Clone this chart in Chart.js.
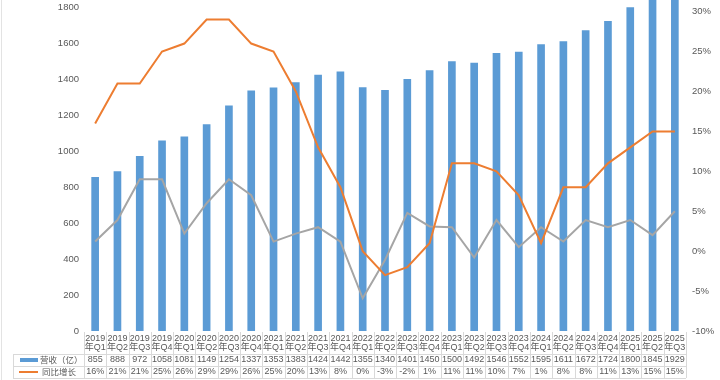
<!DOCTYPE html>
<html>
<head>
<meta charset="utf-8">
<script src="https://cdn.jsdelivr.net/npm/chart.js@4/dist/chart.umd.min.js"></script>
<style>
html, body { margin: 0; padding: 0; background: #fff; overflow: hidden; }
#wrap { position: absolute; left: 0; top: -40px; width: 720px; height: 420px; }
#edge { position: absolute; left: 1px; top: 0; width: 1px; height: 380px; background: #e3e3e3; }
</style>
</head>
<body>
<div id="wrap"><canvas id="c" width="720" height="420"></canvas></div>
<div id="edge"></div>
<script>
// quarters shown along the bottom, values
const periods = ['2019年Q1','2019年Q2','2019年Q3','2019年Q4','2020年Q1','2020年Q2','2020年Q3','2020年Q4',
  '2021年Q1','2021年Q2','2021年Q3','2021年Q4','2022年Q1','2022年Q2','2022年Q3','2022年Q4',
  '2023年Q1','2023年Q2','2023年Q3','2023年Q4','2024年Q1','2024年Q2','2024年Q3','2024年Q4',
  '2025年Q1','2025年Q2','2025年Q3'];
const revenue = [855, 888, 972, 1058, 1081, 1149, 1254, 1337, 1353, 1383, 1424, 1442, 1355, 1340,
  1401, 1450, 1500, 1492, 1546, 1552, 1595, 1611, 1672, 1724, 1800, 1845, 1929];
const yoyGrowth = [16, 21, 21, 25, 26, 29, 29, 26, 25, 20, 13, 8, 0, -3, -2, 1, 11, 11, 10, 7,
  1, 8, 8, 11, 13, 15, 15];
// grey line (not in the legend)
const qoqGrowth = [1.2, 3.9, 9.0, 9.0, 2.2, 6.0, 9.0, 7.0, 1.2, 2.2, 3.0, 1.2, -5.9, -1.1, 4.8, 3.1,
  3.0, -0.8, 3.9, 0.5, 3.0, 1.2, 3.9, 3.0, 3.9, 2.0, 5.0];
const seriesNames = ['营收（亿）', '同比增长'];

const BLUE = '#5b9bd5', ORANGE = '#ed7d31', GREY = '#a5a5a5';
const TEXT = '#595959', LINE = '#d9d9d9';
const FONT = '"Liberation Sans", "Noto Sans CJK SC", sans-serif';

// data table under the plot, columns follow the x scale
const dataTable = {
  id: 'dataTable',
  afterDraw(chart) {
    const ctx = chart.ctx;
    const x = chart.scales.x;
    const top = chart.chartArea.bottom;
    const half = (x.getPixelForValue(1) - x.getPixelForValue(0)) / 2;
    const left = x.getPixelForValue(0) - half;
    const right = x.getPixelForValue(periods.length - 1) + half;
    ctx.save();
    ctx.strokeStyle = LINE;
    ctx.lineWidth = 1;
    ctx.beginPath();
    for (let i = 0; i <= periods.length; i++) {
      const bx = Math.round(left + i * 2 * half) + 0.5;
      ctx.moveTo(bx, top + 1);
      ctx.lineTo(bx, top + 47);
    }
    ctx.moveTo(13.5, top + 23);
    ctx.lineTo(13.5, top + 47);
    [23, 35, 47].forEach(dy => {
      ctx.moveTo(13, Math.round(top + dy) + 0.5);
      ctx.lineTo(right, Math.round(top + dy) + 0.5);
    });
    ctx.stroke();

    ctx.fillStyle = TEXT;
    ctx.font = '9px ' + FONT;
    ctx.textAlign = 'center';
    ctx.textBaseline = 'middle';
    periods.forEach((p, i) => {
      const cx = x.getPixelForValue(i);
      const [year, q] = p.split('年');
      ctx.fillText(year, cx, top + 8);
      ctx.fillText('年' + q, cx, top + 17);
      ctx.fillText(String(revenue[i]), cx, top + 29);
      ctx.fillText(yoyGrowth[i] + '%', cx, top + 41);
    });

    // legend keys
    ctx.fillStyle = BLUE;
    ctx.fillRect(20, top + 27, 18, 4);
    ctx.strokeStyle = ORANGE;
    ctx.lineWidth = 2;
    ctx.beginPath();
    ctx.moveTo(19, top + 41);
    ctx.lineTo(38, top + 41);
    ctx.stroke();
    ctx.fillStyle = TEXT;
    ctx.textAlign = 'left';
    ctx.font = '8.5px "Noto Sans CJK SC", sans-serif';
    ctx.fillText(seriesNames[0], 40, top + 29);
    ctx.fillText(seriesNames[1], 42, top + 41);
    ctx.restore();
  }
};

const whiteBg = {
  id: 'whiteBg',
  beforeDraw(chart) {
    const ctx = chart.ctx;
    ctx.save();
    ctx.fillStyle = '#fff';
    ctx.fillRect(0, 0, chart.width, chart.height);
    ctx.restore();
  }
};

new Chart(document.getElementById('c'), {
  data: {
    labels: periods,
    datasets: [
      {
        type: 'bar', label: seriesNames[0], data: revenue, yAxisID: 'y',
        backgroundColor: BLUE, barThickness: 7, order: 3
      },
      {
        type: 'line', label: seriesNames[1], data: yoyGrowth, yAxisID: 'y1',
        borderColor: ORANGE, borderWidth: 2, pointRadius: 0, tension: 0, order: 1
      },
      {
        type: 'line', label: 'qoq', data: qoqGrowth, yAxisID: 'y1',
        borderColor: GREY, borderWidth: 2, pointRadius: 0, tension: 0, order: 2
      }
    ]
  },
  options: {
    responsive: false,
    animation: false,
    layout: { padding: { top: 10, bottom: 49, left: 0, right: 0 } },
    plugins: { legend: { display: false }, tooltip: { enabled: false } },
    scales: {
      x: { display: false, offset: true },
      y: {
        position: 'left', min: 0, max: 2000,
        border: { display: false },
        grid: { display: false, drawTicks: false },
        ticks: { stepSize: 200, padding: 5, color: TEXT, font: { family: FONT, size: 9.5 },
          callback: v => String(v) },
        afterFit(s) { s.width = 84; }
      },
      y1: {
        position: 'right', min: -10, max: 35,
        border: { display: false },
        grid: { display: false, drawTicks: false },
        ticks: { stepSize: 5, padding: 6, color: TEXT, font: { family: FONT, size: 9.5 },
          callback: v => v + '%' },
        afterFit(s) { s.width = 34; }
      }
    }
  },
  plugins: [whiteBg, dataTable]
});
</script>
</body>
</html>
